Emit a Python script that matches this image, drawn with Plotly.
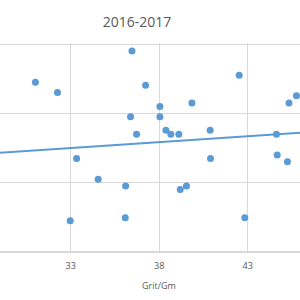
import numpy as np
import plotly.graph_objects as go

# Data
grit_per_gm = [31.0, 32.25, 36.46, 37.23, 42.52, 38.04, 39.85, 36.38, 38.04, 36.72,
               38.38, 38.66, 39.11, 40.88, 44.63, 45.34, 45.76, 33.33, 40.90, 44.67,
               45.25, 34.55, 36.10, 39.19, 39.54, 32.97, 36.08, 42.84]
values = [24.5, 23.0, 29.0, 24.05, 25.5, 21.0, 21.5, 19.5, 19.5, 17.0,
          17.55, 17.0, 17.0, 17.55, 17.0, 21.5, 22.55, 13.5, 13.5, 14.0,
          13.0, 10.5, 9.5, 9.0, 9.5, 4.5, 4.95, 4.95]
x_range = [29.0, 45.96]
x_ticks = [33, 38, 43]
y_ticks = [0, 10, 20, 30]
trend_slope = 0.171
trend_intercept = 9.34

color = "#5B9BD5"
grid = "#D9D9D9"
font_color = "#595959"

trend_x = np.array(x_range)
trend_y = trend_slope * trend_x + trend_intercept

fig = go.Figure()
fig.add_trace(go.Scatter(x=trend_x, y=trend_y, mode="lines",
                         line=dict(color=color, width=2), hoverinfo="skip"))
fig.add_trace(go.Scatter(x=grit_per_gm, y=values, mode="markers",
                         marker=dict(color=color, size=7)))

fig.update_layout(
    width=300, height=300,
    margin=dict(l=0, r=0, t=43, b=47),
    paper_bgcolor="white", plot_bgcolor="white",
    showlegend=False,
    font=dict(family="Open Sans, Liberation Sans, sans-serif", color=font_color),
    title=dict(text="2016-2017", x=137 / 300, xanchor="center", y=1 - 22 / 300,
               yanchor="middle", font=dict(size=14, color=font_color)),
    xaxis=dict(range=x_range, tickvals=x_ticks, showgrid=True, gridcolor=grid,
               gridwidth=1, zeroline=False, showline=False, ticks="outside",
               ticklen=4, tickcolor="rgba(0,0,0,0)",
               tickfont=dict(size=9, color=font_color)),
    yaxis=dict(range=[-0.15, 30.15], tickvals=y_ticks, showgrid=True, gridcolor=grid,
               gridwidth=1, zeroline=True, zerolinecolor=grid, zerolinewidth=2,
               showticklabels=False, ticks=""),
    annotations=[dict(text="Grit/Gm", x=159 / 300, y=-(285 - 253) / 210, xref="paper",
                      yref="paper", showarrow=False, xanchor="center", yanchor="middle",
                      font=dict(size=9, color=font_color))],
)

fig.write_html("out.html")
